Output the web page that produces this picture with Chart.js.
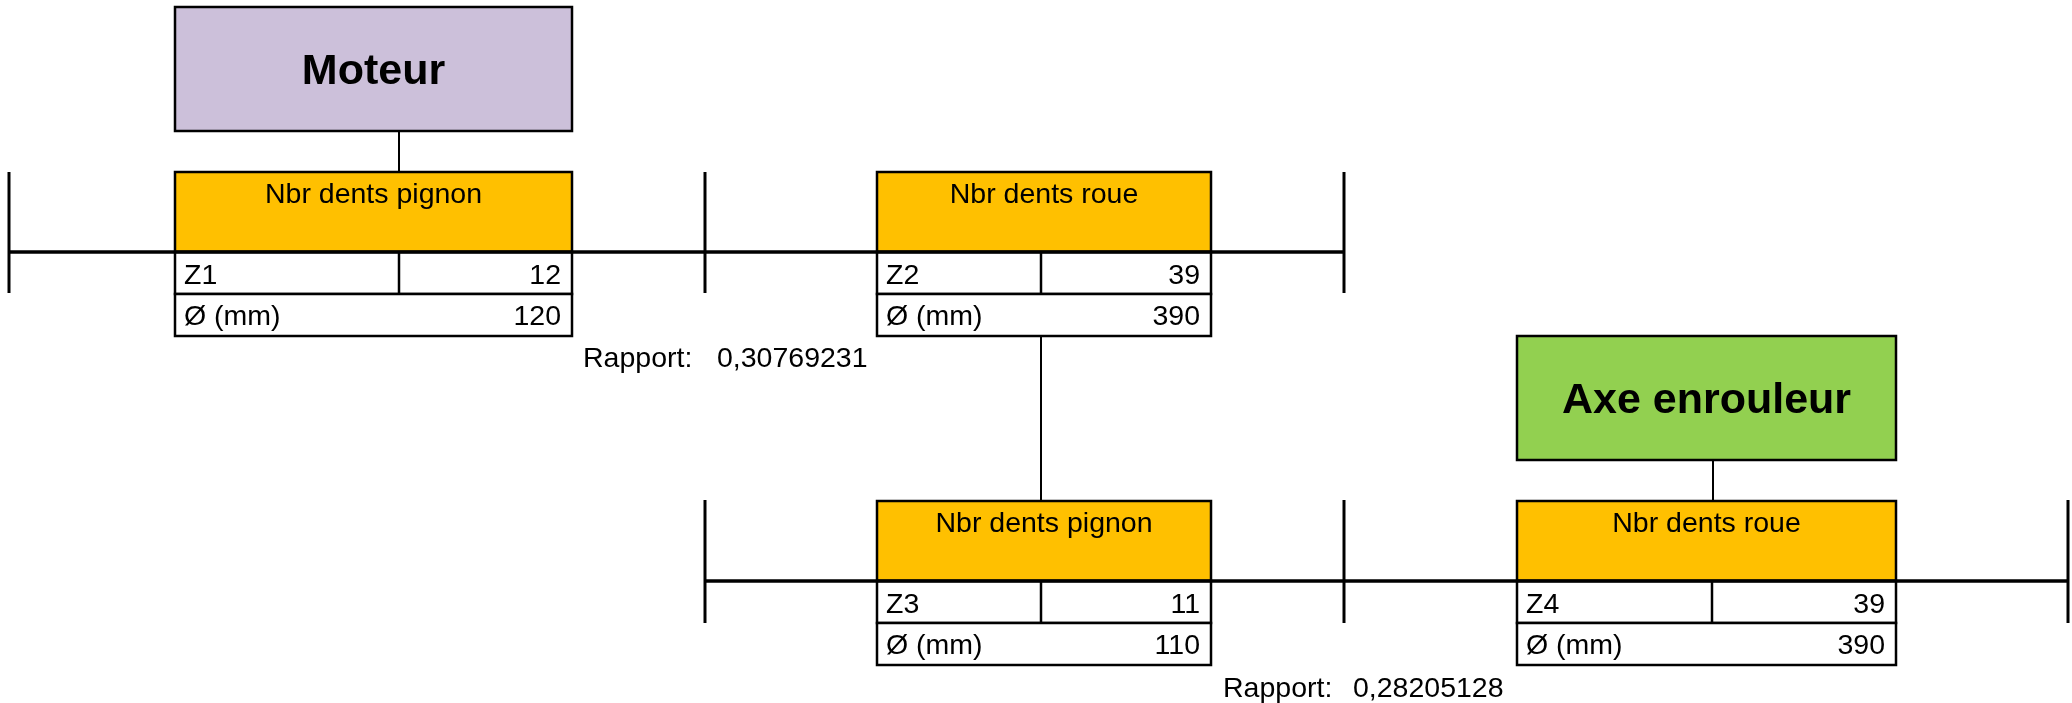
<!DOCTYPE html>
<html>
<head>
<meta charset="utf-8">
<script src="https://cdn.jsdelivr.net/npm/chart.js@4/dist/chart.umd.min.js"></script>
<style>
  html, body { margin: 0; padding: 0; background: #ffffff; }
  canvas { display: block; }
</style>
</head>
<body>
<canvas id="c" width="2072" height="703"></canvas>
<script>
// ---------- data ----------
const gearLabels   = ['Z1', 'Z2', 'Z3', 'Z4'];
const gearHeaders  = ['Nbr dents pignon', 'Nbr dents roue', 'Nbr dents pignon', 'Nbr dents roue'];
const teeth        = [12, 39, 11, 39];
const diameters    = [120, 390, 110, 390];
const ratioValues  = [0.30769231, 0.28205128];
const endNames     = ['Moteur', 'Axe enrouleur'];
const diamLabel    = 'Ø (mm)';
const ratioLabel   = 'Rapport:';

// ---------- layout (diagram units, mapped through the chart scales) ----------
const gearBoxes = [
  { x0: 175, x1: 572,  y0: 172, div: 399 },
  { x0: 877, x1: 1211, y0: 172, div: 1041 },
  { x0: 877, x1: 1211, y0: 501, div: 1041 },
  { x0: 1517, x1: 1896, y0: 501, div: 1712 }
];
const headerH = 80, rowH = 42;
const endBoxes = [
  { x0: 175,  x1: 572,  y0: 7,   y1: 131, fill: '#CCC0DA', linkX: 399,  linkTo: 172 },
  { x0: 1517, x1: 1896, y0: 336, y1: 460, fill: '#92D050', linkX: 1713, linkTo: 501 }
];
const shafts = [
  { x0: 9,   x1: 1344, y: 252, ticks: [9, 705, 1344],   t0: 172, t1: 293 },
  { x0: 705, x1: 2068, y: 581, ticks: [705, 1344, 2068], t0: 500, t1: 623 }
];
const links = [ { x: 1041, y0: 336, y1: 501 } ];
const ratioPos = [ { x: 583, vx: 717, y: 367 }, { x: 1223, vx: 1353, y: 697 } ];

const FONT = '"Liberation Sans", Arial, sans-serif';
const TXT = '28.5px ' + FONT;
const BOLD = 'bold 43px ' + FONT;

function fmt(v) { return v.toFixed(8).replace('.', ','); }

const diagramPlugin = {
  id: 'diagram',
  afterDraw(chart) {
    const ctx = chart.ctx;
    const sx = chart.scales.x, sy = chart.scales.y;
    const X = v => sx.getPixelForValue(v);
    const Y = v => sy.getPixelForValue(v);
    ctx.save();
    ctx.strokeStyle = '#000';
    ctx.lineCap = 'butt';

    function line(x0, y0, x1, y1, w) {
      ctx.lineWidth = w;
      ctx.beginPath();
      ctx.moveTo(X(x0), Y(y0));
      ctx.lineTo(X(x1), Y(y1));
      ctx.stroke();
    }
    function rect(x0, y0, x1, y1, fill, w) {
      const px = X(x0), py = Y(y0), pw = X(x1) - X(x0), ph = Y(y1) - Y(y0);
      if (fill) { ctx.fillStyle = fill; ctx.fillRect(px, py, pw, ph); }
      ctx.lineWidth = w;
      ctx.strokeRect(px, py, pw, ph);
    }
    function text(str, x, y, align, font) {
      ctx.font = font;
      ctx.fillStyle = '#000';
      ctx.textAlign = align;
      ctx.textBaseline = 'alphabetic';
      ctx.fillText(str, X(x), Y(y));
    }

    // shafts
    shafts.forEach(s => {
      line(s.x0, s.y, s.x1, s.y, 3.5);
      s.ticks.forEach(t => line(t, s.t0, t, s.t1, 3));
    });
    // links between stacked gears
    links.forEach(l => line(l.x, l.y0, l.x, l.y1, 2));

    // end boxes (motor / winding shaft)
    endBoxes.forEach((b, i) => {
      line(b.linkX, b.y1, b.linkX, b.linkTo, 2);
      rect(b.x0, b.y0, b.x1, b.y1, b.fill, 2.5);
      text(endNames[i], (b.x0 + b.x1) / 2, (b.y0 + b.y1) / 2 + 15, 'center', BOLD);
    });

    // gear boxes
    gearBoxes.forEach((g, i) => {
      const yh = g.y0 + headerH;
      rect(g.x0, g.y0, g.x1, yh, '#FFC000', 2.5);
      rect(g.x0, yh, g.x1, yh + rowH, '#FFFFFF', 2.5);
      rect(g.x0, yh + rowH, g.x1, yh + 2 * rowH, '#FFFFFF', 2.5);
      line(g.div, yh, g.div, yh + rowH, 2.5);
      line(g.x0, yh, g.x1, yh, 3.5);
      text(gearHeaders[i], (g.x0 + g.x1) / 2, g.y0 + 31, 'center', TXT);
      text(gearLabels[i], g.x0 + 9, yh + 32, 'left', TXT);
      text(String(teeth[i]), g.x1 - 11, yh + 32, 'right', TXT);
      text(diamLabel, g.x0 + 9, yh + rowH + 31, 'left', TXT);
      text(String(diameters[i]), g.x1 - 11, yh + rowH + 31, 'right', TXT);
    });

    // ratios
    ratioPos.forEach((r, i) => {
      text(ratioLabel, r.x, r.y, 'left', TXT);
      text(fmt(ratioValues[i]), r.vx, r.y, 'left', TXT);
    });
    ctx.restore();
  }
};

new Chart(document.getElementById('c'), {
  type: 'scatter',
  data: { datasets: [{ data: [], pointRadius: 0 }] },
  options: {
    responsive: false,
    animation: false,
    events: [],
    layout: { padding: 0 },
    plugins: { legend: { display: false }, tooltip: { enabled: false } },
    scales: {
      x: { type: 'linear', min: 0, max: 2072, display: false },
      y: { type: 'linear', min: 0, max: 703, reverse: true, display: false }
    }
  },
  plugins: [diagramPlugin]
});
</script>
</body>
</html>
